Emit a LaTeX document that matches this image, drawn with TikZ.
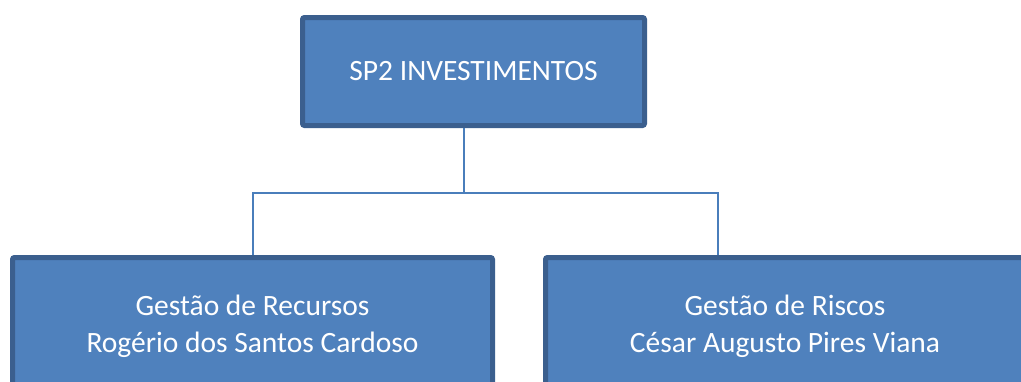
\documentclass[tikz,border=0pt]{standalone}
\usepackage{fontspec}
\setmainfont{Carlito}
\definecolor{boxfill}{HTML}{4F81BD}
\definecolor{boxline}{HTML}{3B5F8E}
\definecolor{conn}{HTML}{4A7EBB}
\begin{document}
\begin{tikzpicture}[x=1pt,y=-1pt,
  orgbox/.style={draw=boxline, fill=boxfill, line width=5pt, rounded corners=2pt,
    inner sep=0pt, text=white, align=center, font=\fontsize{29.5}{37}\selectfont},
  link/.style={draw=conn, line width=2pt}]
\useasboundingbox (0,0) rectangle (1021,381);
\clip (0,0) rectangle (1021,381);
\coordinate (j) at (464,193);
\coordinate (rj) at (718,193);
\node[orgbox, minimum width=342pt, minimum height=108pt] (top) at (473.5,71.5) {SP2 INVESTIMENTOS};
\node[orgbox, minimum width=480pt, minimum height=137pt] (left) at (252.5,326) {Gestão de Recursos\\Rogério dos Santos Cardoso};
\node[orgbox, minimum width=479pt, minimum height=137pt] (right) at (785,326) {Gestão de Riscos\\César Augusto Pires Viana};
\draw[link] (top.south -| j) -- (j);
\draw[link] (left.north) -- (left.north |- j) -- (rj) -- (rj |- right.north);
\end{tikzpicture}
\end{document}
